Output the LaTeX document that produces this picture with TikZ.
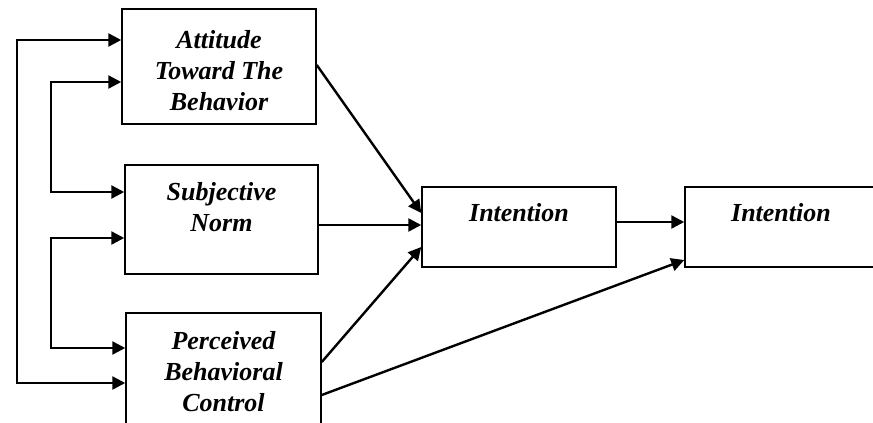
\documentclass[tikz,border=0pt]{standalone}
\usepackage{fontspec}
\setmainfont{Liberation Serif}
\usetikzlibrary{arrows.meta}
\begin{document}
\begin{tikzpicture}[x=1pt,y=-1pt,
  boxnode/.style={draw=black,line width=1.5pt,rectangle,inner sep=0pt},
  lbl/.style={align=center,font=\fontsize{26}{31}\selectfont\bfseries\itshape},
  arr/.style={line width=2.4pt,-{Triangle[length=13pt,width=13pt]}},
  biarr/.style={line width=2.4pt,{Triangle[length=13pt,width=13pt]}-{Triangle[length=13pt,width=13pt]}}]
\useasboundingbox[fill=white] (0,0) rectangle (873,423);
% boxes
\node[boxnode,minimum width=194pt,minimum height=115pt] (b1) at (219,66.5) {};
\node[boxnode,minimum width=193pt,minimum height=109pt] (b2) at (221.5,219.5) {};
\node[boxnode,minimum width=195pt,minimum height=140pt] (b3) at (223.5,383) {};
\node[boxnode,minimum width=194pt,minimum height=80pt] (i1) at (519,227) {};
\node[boxnode,minimum width=200pt,minimum height=80pt] (i2) at (785,227) {};
% labels
\node[lbl] (t1) at (219,71) {Attitude\\Toward The\\Behavior};
\node[lbl] (t2) at (221.5,207) {Subjective\\Norm};
\node[lbl] (t3) at (223.5,372) {Perceived\\Behavioral\\Control};
\node[lbl] (t4) at (519,213) {Intention};
\node[lbl] (t5) at (781,213) {Intention};
% left feedback connectors
\draw[biarr] (b1.west |- 0,40) -| (17,383) -- (b3.west |- 0,383);
\draw[biarr] (b1.west |- 0,82) -| (51,192) -- (b2.west |- 0,192);
\draw[biarr] (b2.west |- 0,238) -| (51,348) -- (b3.west |- 0,348);
% main arrows
\draw[arr] (b1.east |- 0,65) -- (i1.west |- 0,213);
\draw[arr] (b2.east |- 0,225) -- (i1.west |- 0,225);
\draw[arr] (b3.east |- 0,362) -- (i1.west |- 0,247);
\draw[arr] (b3.east |- 0,395) -- (i2.west |- 0,260);
\draw[arr] (i1.east |- 0,222) -- (i2.west |- 0,222);
\end{tikzpicture}
\end{document}
